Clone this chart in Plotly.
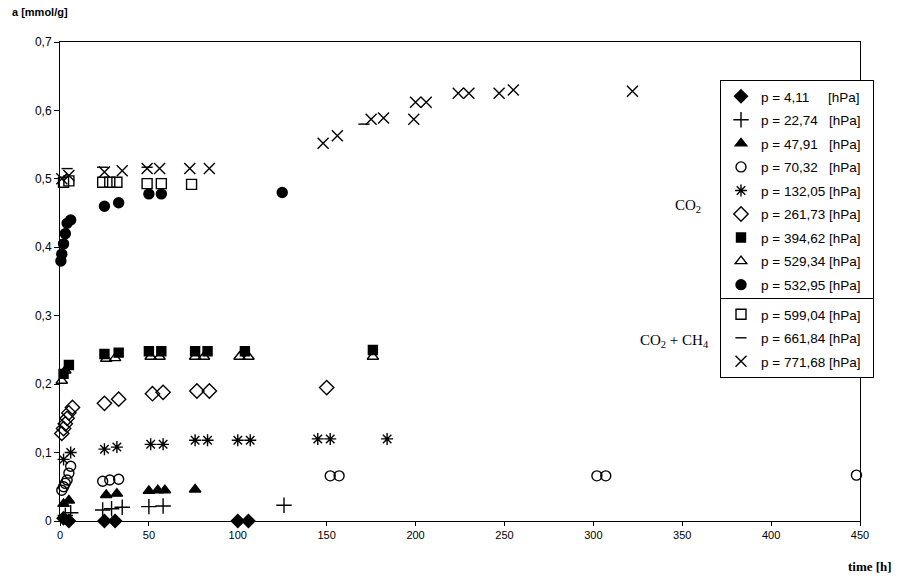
import plotly.graph_objects as go

NB = "\u00a0"

# ---- data (time [h], a [mmol/g]) ----
names = [
    "p = 4,11" + NB * 5 + "[hPa]" + NB * 2,
    "p = 22,74" + NB * 3 + "[hPa]" + NB * 2,
    "p = 47,91" + NB * 3 + "[hPa]" + NB * 2,
    "p = 70,32" + NB * 3 + "[hPa]" + NB * 2,
    "p = 132,05 [hPa]" + NB * 2,
    "p = 261,73 [hPa]" + NB * 2,
    "p = 394,62 [hPa]" + NB * 2,
    "p = 529,34 [hPa]" + NB * 2,
    "p = 532,95 [hPa]" + NB * 2,
    "p = 599,04 [hPa]" + NB * 2,
    "p = 661,84 [hPa]" + NB * 2,
    "p = 771,68 [hPa]" + NB * 2,
]

x_p411 = [2, 5, 25, 31, 100, 106]
y_p411 = [0.004, 0.0, 0.0, 0.0, 0.0, 0.0]

x_p2274 = [3, 6, 24, 29, 35, 50, 58, 126]
y_p2274 = [0.008, 0.012, 0.016, 0.018, 0.02, 0.021, 0.022, 0.023]

x_p4791 = [2, 5, 26, 32, 50, 55, 59, 76]
y_p4791 = [0.025, 0.03, 0.038, 0.04, 0.044, 0.045, 0.045, 0.046]

x_p7032 = [1, 2, 3, 4, 5, 6, 24, 28, 33, 152, 157, 302, 307, 448]
y_p7032 = [0.045, 0.05, 0.055, 0.06, 0.07, 0.08, 0.058, 0.06, 0.061, 0.066, 0.066, 0.066, 0.066, 0.067]

x_p13205 = [2, 6, 25, 32, 51, 58, 76, 83, 100, 107, 145, 152, 184]
y_p13205 = [0.09, 0.1, 0.105, 0.108, 0.112, 0.112, 0.118, 0.118, 0.118, 0.118, 0.12, 0.12, 0.12]

x_p26173 = [1, 2, 3, 4, 5, 7, 25, 33, 52, 58, 77, 84, 150]
y_p26173 = [0.128, 0.135, 0.142, 0.15, 0.158, 0.166, 0.172, 0.178, 0.186, 0.188, 0.19, 0.19, 0.195]

x_p39462 = [2, 5, 25, 33, 50, 57, 76, 83, 104, 176]
y_p39462 = [0.215, 0.228, 0.244, 0.246, 0.248, 0.248, 0.248, 0.248, 0.248, 0.25]

x_p52934 = [1, 3, 26, 31, 51, 56, 76, 81, 101, 106, 176]
y_p52934 = [0.205, 0.22, 0.237, 0.238, 0.24, 0.24, 0.24, 0.24, 0.24, 0.24, 0.24]

x_p53295 = [0.5, 1, 2, 3, 4, 6, 25, 33, 50, 57, 125]
y_p53295 = [0.38, 0.39, 0.405, 0.42, 0.435, 0.44, 0.46, 0.465, 0.478, 0.478, 0.48]

x_p59904 = [2, 5, 24, 28, 32, 49, 57, 74]
y_p59904 = [0.495, 0.497, 0.495, 0.495, 0.495, 0.493, 0.493, 0.492]

x_p66184 = [4, 24, 49, 171]
y_p66184 = [0.515, 0.517, 0.517, 0.58]

x_p77168 = [1, 5, 25, 35, 49, 56, 73, 84, 148, 156, 175, 182, 199, 200, 206, 224, 230, 247, 255, 322]
y_p77168 = [0.5, 0.505, 0.51, 0.512, 0.515, 0.515, 0.515, 0.515, 0.552, 0.563, 0.587, 0.589,
            0.587, 0.612, 0.612, 0.625, 0.625, 0.625, 0.63, 0.628]

y_tickvals = [0, 0.1, 0.2, 0.3, 0.4, 0.5, 0.6, 0.7]
y_ticktext = ["0", "0,1", "0,2", "0,3", "0,4", "0,5", "0,6", "0,7"]
x_tickvals = [0, 50, 100, 150, 200, 250, 300, 350, 400, 450]

series = [
    (x_p411, y_p411, "diamond", 10, "legend"),
    (x_p2274, y_p2274, "cross-thin-open", 11, "legend"),
    (x_p4791, y_p4791, "triangle-up", 10, "legend"),
    (x_p7032, y_p7032, "circle-open", 10, "legend"),
    (x_p13205, y_p13205, "asterisk-open", 10, "legend"),
    (x_p26173, y_p26173, "diamond-open", 11, "legend"),
    (x_p39462, y_p39462, "square", 9, "legend"),
    (x_p52934, y_p52934, "triangle-up-open", 10, "legend"),
    (x_p53295, y_p53295, "circle", 10, "legend"),
    (x_p59904, y_p59904, "square-open", 10, "legend2"),
    (x_p66184, y_p66184, "line-ew-open", 8, "legend2"),
    (x_p77168, y_p77168, "x-thin-open", 11, "legend2"),
]

fig = go.Figure()
for i, (xs, ys, sym, sz, lg) in enumerate(series):
    fig.add_trace(go.Scatter(
        x=xs, y=ys, mode="markers", name=names[i],
        legend=lg, legendgroup="g%d" % i, cliponaxis=False,
        marker=dict(symbol=sym, size=sz, color="black",
                    line=dict(color="black", width=1.4)),
    ))

legend_common = dict(
    xanchor="left", yanchor="top", bordercolor="black", borderwidth=1,
    bgcolor="white", font=dict(family="Liberation Sans, Arial", size=13.5, color="black"),
    tracegroupgap=3, itemwidth=30,
)

fig.update_layout(
    width=904, height=579,
    margin=dict(l=60, r=44, t=42, b=58),
    paper_bgcolor="white", plot_bgcolor="white",
    font=dict(family="Liberation Sans, Arial", size=11, color="black"),
    showlegend=True,
    legend=dict(x=0.825, y=0.9207, **legend_common),
    legend2=dict(x=0.825, y=0.4656, **legend_common),
    xaxis=dict(range=[0, 450], tickvals=x_tickvals, showline=True, linecolor="black",
               linewidth=1, mirror=True, ticks="outside", ticklen=4, tickcolor="black",
               showgrid=False, zeroline=False, tickfont=dict(size=11)),
    yaxis=dict(range=[0, 0.7], tickvals=y_tickvals, ticktext=y_ticktext, showline=True,
               linecolor="black", linewidth=1, mirror=True, ticks="outside", ticklen=5,
               tickcolor="black", showgrid=False, zeroline=False, tickfont=dict(size=12)),
    annotations=[
        dict(text="<b>a [mmol/g]</b>", xref="paper", yref="paper", x=-0.063, y=1.062,
             xanchor="left", yanchor="middle", showarrow=False,
             font=dict(family="Liberation Sans, Arial", size=11)),
        dict(text="<b>time [h]</b>", xref="paper", yref="paper", x=1.013, y=-0.095,
             xanchor="center", yanchor="middle", showarrow=False,
             font=dict(family="Liberation Serif, Times New Roman", size=13)),
        dict(text="CO<sub>2</sub>", xref="paper", yref="paper", x=0.785, y=0.658,
             xanchor="center", yanchor="middle", showarrow=False,
             font=dict(family="Liberation Serif, Times New Roman", size=15)),
        dict(text="CO<sub>2</sub> + CH<sub>4</sub>", xref="paper", yref="paper", x=0.768, y=0.375,
             xanchor="center", yanchor="middle", showarrow=False,
             font=dict(family="Liberation Serif, Times New Roman", size=15)),
    ],
)

fig.write_html("out.html")
